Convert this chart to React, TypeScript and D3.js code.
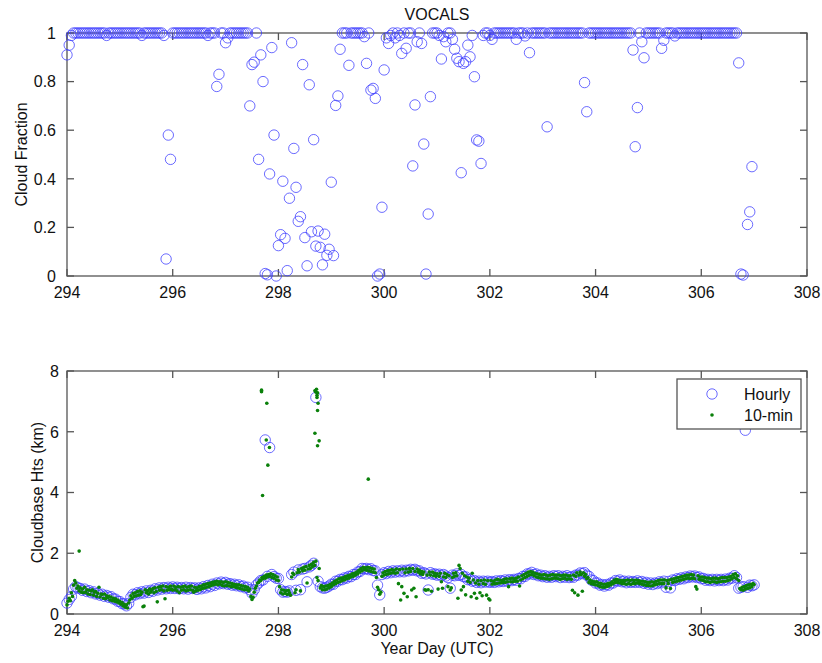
import React from 'react';
import * as d3 from 'd3';

// ---- data ---------------------------------------------------------------
const chartTitle = 'VOCALS';
const firstDay = 294;
const dayTicks = [294, 296, 298, 300, 302, 304, 306, 308];
const fractionTicks = [0, 0.2, 0.4, 0.6, 0.8, 1];
const heightTicks = [0, 2, 4, 6, 8];
const legendLabels = ['Hourly', '10-min'];

// Hourly cloud fraction, one row of 24 hours per year day (294 ... 306)
const fractionByDay: (number | null)[][] = [
  [0.91, 0.95, 0.99, 1, 1, 1, 1, 1, 1, 1, 1, 1, 1, 1, 1, 1, 1, 1, 0.99, 1, 1, 1, 1, 1],
  [1, 1, 1, 1, 1, 1, 1, 1, 1, 1, 0.99, 1, 1, 1, 1, 1, 1, 1, 1, 1, 0.99, 0.07, 0.58, 0.48],
  [1, 1, 1, 1, 1, 1, 1, 1, 1, 1, 1, 1, 1, 1, 1, 1, 0.99, 1, 1, 1, 0.78, 0.83, 1, 1],
  [0.96, 0.98, 1, 1, 1, 1, 1, 1, 1, 1, 1, 0.7, 0.87, 0.88, 1, 0.48, 0.91, 0.8, 0.01, 0.005, 0.42, 0.94, 0.58, 0],
  [0.125, 0.17, 0.39, 0.155, 0.022, 0.32, 0.96, 0.525, 0.365, 0.225, 0.244, 0.87, 0.158, 0.042, 0.787, 0.182, 0.561, 0.123, 0.185, 0.118, 0.046, 0.172, 0.085, 0.11],
  [0.386, 0.084, 0.702, 0.741, 0.933, 1, 1, 1, 0.867, 1, 1, 1, 1, 1, 1, 0.985, 0.875, 1, 0.765, 0.772, 0.731, 0, 0.008, 0.283],
  [0.848, 0.98, 0.957, 0.99, 1, 0.98, 1, 0.99, 0.916, 1, 0.937, 1, 1, 0.453, 0.704, 0.964, 1, 0.957, 0.543, 0.008, 0.255, 0.738, 1, 1],
  [1, 0.99, 0.893, 0.985, 0.964, 1, 1, 0.974, 0.933, 0.896, 0.882, 0.425, 0.875, 0.882, 0.95, 0.902, 0.99, 0.82, 0.56, 0.555, 0.463, 0.99, 1, 1],
  [0.99, 0.974, 1, 1, 1, 1, 1, 1, 1, 1, 1, 1, 0.974, 1, 1, 1, 0.988, 1, 0.919, 1, 1, 1, 1, 1],
  [1, 1, 0.614, 1, 1, 1, 1, 1, 1, 1, 1, 1, 1, 1, 1, 1, 1, 1, 1, 0.796, 0.676, 1, 1, 1],
  [1, 1, 1, 1, 1, 1, 1, 1, 1, 1, 1, 1, 1, 1, 1, 1, 1, 0.93, 0.532, 0.693, 1, 0.964, 0.898, 1],
  [1, 1, 1, 1, 1, 1, 0.937, 0.97, 1, 1, 1, 1, 0.988, 1, 1, 1, 1, 1, 1, 1, 1, 1, 1, 1],
  [1, 1, 1, 1, 1, 1, 1, 1, 1, 1, 1, 1, 1, 1, 1, 1, 1, 0.877, 0.008, 0.004, null, 0.212, 0.264, 0.45],
];

// Hourly cloudbase height (km), one row of 24 hours per year day (294 ... 307)
const hourlyBaseByDay: (number | null)[][] = [
  [0.36, 0.48, 0.58, 0.82, 0.9, 0.86, 0.84, 0.78, 0.82, 0.74, 0.77, 0.7, 0.73, 0.66, 0.68, 0.62, 0.65, 0.58, 0.61, 0.55, 0.57, 0.5, 0.49, 0.42],
  [0.41, 0.34, 0.33, 0.27, 0.35, 0.55, 0.65, 0.63, 0.7, 0.67, 0.73, 0.69, 0.76, 0.71, 0.78, 0.75, 0.83, 0.79, 0.86, 0.82, 0.87, 0.83, 0.88, 0.84],
  [0.89, 0.84, 0.88, 0.83, 0.87, 0.83, 0.88, 0.82, 0.87, 0.84, 0.86, 0.81, 0.86, 0.83, 0.9, 0.86, 0.94, 0.9, 0.98, 0.94, 1.02, 0.99, 1.05, 1.0],
  [1.04, 0.98, 1.0, 0.95, 0.98, 0.93, 0.96, 0.9, 0.92, 0.86, 0.88, 0.8, 0.68, 0.8, 0.95, 1.02, 1.1, 1.12, 5.73, 1.24, 5.48, 1.3, 1.23, 1.18],
  [1.17, 0.8, 0.72, 0.74, 0.72, 0.76, 1.3, 1.38, 0.78, 1.45, 0.8, 1.48, 1.5, 1.06, 1.55, 1.6, 1.67, 7.13, 1.08, 0.9, 0.86, 0.85, 0.88, 0.92],
  [0.98, 0.98, 1.08, 1.08, 1.14, 1.13, 1.19, 1.18, 1.24, 1.23, 1.3, 1.3, 1.38, 1.4, 1.5, 1.48, 1.5, 1.46, 1.49, 1.43, 1.42, 0.95, 0.63, 1.3],
  [1.36, 1.33, 1.4, 1.36, 1.42, 1.38, 1.42, 1.39, 1.44, 1.39, 1.44, 1.42, 1.47, 1.44, 1.47, 1.42, 1.42, 1.34, 1.36, 1.32, 0.79, 1.36, 1.31, 1.32],
  [1.28, 1.31, 1.26, 1.3, 1.25, 1.2, 0.85, 1.28, 1.26, 1.32, 1.27, 1.3, 1.23, 1.22, 1.13, 1.14, 1.08, 1.1, 1.04, 1.08, 1.03, 1.08, 1.05, 1.08],
  [1.04, 1.07, 1.04, 1.09, 1.06, 1.1, 1.07, 1.12, 1.08, 1.13, 1.1, 1.14, 1.11, 1.17, 1.16, 1.24, 1.24, 1.32, 1.32, 1.37, 1.3, 1.32, 1.26, 1.28],
  [1.23, 1.26, 1.21, 1.24, 1.21, 1.26, 1.23, 1.26, 1.2, 1.24, 1.21, 1.26, 1.2, 1.23, 1.21, 1.28, 1.28, 1.35, 1.33, 1.36, 1.28, 1.24, 1.12, 1.1],
  [1.02, 1.02, 0.95, 0.97, 0.92, 0.97, 0.95, 1.02, 1.02, 1.1, 1.08, 1.12, 1.06, 1.08, 1.03, 1.08, 1.04, 1.07, 1.04, 1.09, 1.04, 1.07, 1.01, 1.04],
  [0.98, 1.02, 0.97, 1.02, 1.0, 1.06, 1.03, 1.08, 0.88, 1.07, 0.86, 1.12, 1.1, 1.16, 1.14, 1.19, 1.16, 1.22, 1.2, 1.25, 1.22, 1.25, 1.2, 1.22],
  [1.16, 1.17, 1.11, 1.14, 1.1, 1.14, 1.09, 1.14, 1.1, 1.14, 1.1, 1.15, 1.12, 1.18, 1.18, 1.26, 1.2, 0.85, 0.88, 0.9, 6.05, 0.88, 0.95, 0.93],
  [0.96],
];

// 10-min cloudbase heights (km), thinned to two samples per hour, 48 per day
const tenMinBaseByDay: (number | null)[][] = [
  [0.3, 0.42, 0.52, 0.44, 0.7, 0.58, 0.95, 1.1, 1.02, 0.85, 0.92, 0.76, 0.86, 0.72, 0.82, 0.7, 0.88, 0.72, 0.8, 0.66, 0.78, 0.64, 0.76, 0.8, 0.62, 0.72, 0.74, 0.58, 0.68, 0.88, 0.56, 0.66, 0.64, 0.52, 0.66, 0.5, 0.6, 0.54, 0.58, 0.46, 0.56, 0.44, 0.52, 0.42, 0.5, 0.4, 0.46, 0.36],
  [0.42, 0.32, 0.38, 0.26, 0.32, 0.22, 0.3, 0.2, 0.36, 0.46, 0.6, 0.52, 0.68, 0.58, 0.7, 0.6, 0.74, 0.62, 0.76, 0.64, 0.72, 0.24, 0.26, 0.8, 0.7, 0.76, 0.66, 0.82, 0.72, 0.78, 0.84, 0.7, 0.86, 0.74, 0.4, 0.88, 0.78, 0.9, 0.8, 0.92, 0.76, 0.5, 0.9, 0.78, 0.88, 0.8, 0.92, 0.82],
  [0.78, 0.92, 0.8, 0.88, 0.76, 0.9, 0.7, 0.88, 0.78, 0.9, 0.8, 0.92, 0.76, 0.88, 0.78, 0.9, 0.8, 0.92, 0.78, 0.72, 0.88, 0.76, 0.86, 0.78, 0.9, 0.8, 0.92, 0.84, 0.96, 0.86, 0.98, 0.88, 1.0, 0.9, 1.02, 0.94, 1.04, 0.96, 1.06, 0.98, 1.08, 0.96, 1.06, 0.98, 1.06, 0.94, 1.04, 0.92],
  [1.06, 0.94, 1.04, 0.92, 1.02, 0.9, 1.0, 0.9, 0.98, 0.88, 0.96, 0.86, 0.96, 0.84, 0.94, 0.82, 0.92, 0.8, 0.9, 0.8, 0.88, 0.76, 0.82, 0.58, 0.48, 0.55, 0.72, 0.85, 0.92, 1.02, 1.04, 1.12, 1.1, 1.2, 1.16, 1.24, 1.18, 1.28, 1.22, 1.3, 1.24, 1.32, 1.2, 1.3, 1.18, 1.26, 1.12, 1.22],
  [1.1, 0.9, 0.7, 0.8, 0.66, 0.78, 0.68, 0.76, 0.64, 0.78, 0.7, 0.62, 1.22, 1.34, 1.3, 0.7, 0.8, 1.36, 1.46, 1.38, 0.76, 1.5, 1.42, 1.54, 1.44, 1.56, 1.02, 1.48, 1.6, 1.5, 1.64, 1.56, 1.7, 1.6, 1.74, 1.2, 1.1, 1.5, 0.86, 0.94, 0.8, 0.9, 0.8, 0.92, 0.82, 0.94, 0.86, 0.98],
  [0.9, 1.02, 0.96, 1.08, 1.0, 1.12, 1.04, 1.16, 1.06, 1.18, 1.1, 1.2, 1.12, 1.24, 1.16, 1.26, 1.18, 1.28, 1.22, 1.32, 1.24, 1.34, 1.28, 1.38, 1.32, 1.44, 1.38, 1.5, 1.42, 1.54, 1.46, 1.52, 1.44, 1.54, 1.42, 1.52, 1.4, 1.5, 1.38, 1.48, 1.36, 1.2, 0.88, 0.8, 0.65, 0.72, 1.24, 1.36],
  [1.28, 1.4, 1.3, 1.42, 1.32, 1.44, 1.34, 1.46, 1.36, 1.44, 1.34, 1.48, 1.36, 1.0, 1.46, 0.46, 0.9, 1.48, 0.68, 1.36, 1.48, 0.57, 1.38, 1.5, 1.4, 0.79, 1.5, 0.85, 1.4, 0.57, 1.48, 1.38, 1.44, 1.32, 1.4, 1.3, 1.38, 0.8, 0.78, 1.28, 0.8, 1.38, 1.28, 0.75, 1.38, 1.26, 1.34, 1.24],
  [1.32, 0.82, 1.24, 1.34, 1.06, 0.85, 1.22, 1.34, 1.2, 1.3, 0.9, 1.26, 0.79, 0.86, 1.2, 1.34, 1.24, 1.36, 1.26, 0.52, 1.6, 1.5, 0.79, 1.34, 0.9, 1.26, 0.63, 1.22, 1.08, 1.18, 1.04, 0.57, 1.34, 1.12, 0.68, 1.02, 0.52, 1.1, 0.98, 0.7, 1.1, 0.6, 1.0, 1.12, 0.98, 0.62, 1.1, 0.5],
  [0.46, 1.1, 0.98, 1.08, 1.0, 1.12, 1.0, 1.14, 1.02, 1.12, 1.02, 1.1, 1.04, 1.14, 1.04, 1.16, 1.06, 0.9, 1.16, 1.06, 1.18, 1.06, 1.16, 1.08, 1.18, 1.08, 1.22, 0.92, 1.12, 1.26, 1.16, 1.3, 1.2, 1.34, 1.24, 1.38, 1.28, 1.4, 1.3, 1.38, 1.26, 1.34, 1.22, 1.32, 1.2, 1.3, 1.18, 1.28],
  [1.18, 1.3, 1.16, 1.28, 1.16, 1.26, 1.14, 1.28, 1.16, 1.3, 1.18, 1.28, 1.18, 1.28, 1.16, 1.28, 1.14, 1.26, 1.16, 1.28, 1.18, 1.28, 1.14, 1.26, 1.16, 1.26, 1.14, 0.78, 1.28, 0.7, 1.24, 1.36, 0.62, 1.28, 1.38, 1.3, 0.75, 1.36, 1.24, 1.3, 1.16, 1.2, 1.04, 1.12, 1.0, 1.08, 0.98, 1.06],
  [0.96, 1.06, 0.94, 1.02, 0.9, 1.0, 0.88, 0.98, 0.88, 0.98, 0.9, 1.0, 0.92, 1.02, 0.96, 1.06, 1.0, 1.12, 1.04, 1.14, 1.04, 1.12, 1.02, 1.1, 1.0, 1.1, 1.0, 1.1, 0.98, 1.12, 1.0, 1.1, 0.98, 1.12, 1.0, 1.1, 1.0, 1.12, 1.02, 1.1, 1.0, 1.08, 0.98, 1.08, 0.96, 1.06, 0.94, 1.04],
  [0.94, 1.04, 0.92, 1.06, 0.94, 1.04, 0.96, 1.08, 0.98, 1.1, 1.0, 1.12, 1.0, 1.12, 1.0, 1.12, 0.86, 1.1, 1.0, 1.12, 0.84, 1.14, 1.04, 1.16, 1.06, 1.18, 1.08, 1.2, 1.1, 1.22, 1.12, 1.24, 1.14, 1.26, 1.16, 1.28, 1.18, 1.28, 1.16, 1.3, 1.18, 1.28, 1.16, 0.9, 0.82, 1.26, 1.14, 1.22],
  [1.12, 1.22, 1.1, 1.2, 1.06, 1.18, 1.06, 1.18, 1.04, 1.16, 1.06, 1.18, 1.06, 1.18, 1.04, 1.16, 1.06, 1.18, 1.06, 1.2, 1.08, 1.2, 1.08, 1.2, 1.1, 1.22, 1.12, 1.24, 1.16, 1.3, 1.2, 1.32, 1.16, 1.26, 1.1, 0.84, 0.8, 0.88, 0.78, 0.9, 0.82, 0.94, 0.84, 0.96, 0.86, 0.98, 0.9, 1.0],
  [0.97],
];

// Isolated high 10-min returns (year day, km)
const spikeDays = [294.23, 297.68, 297.68, 297.7, 297.78, 297.77, 297.83, 297.8, 298.69, 298.71, 298.72, 298.73, 298.74, 298.73, 298.75, 298.74, 298.69, 298.77, 298.74, 299.7];
const spikeKm = [2.07, 7.32, 7.37, 3.9, 6.94, 5.73, 5.48, 4.9, 7.35, 7.3, 7.4, 7.2, 7.28, 7.13, 6.94, 6.7, 5.95, 5.7, 5.54, 4.44];

// ---- helpers ------------------------------------------------------------
type Pt = { day: number; v: number };

function flattenRows(rows: (number | null)[][], perDay: number): Pt[] {
  const out: Pt[] = [];
  rows.forEach((row, d) => {
    row.forEach((v, k) => {
      if (v !== null) out.push({ day: firstDay + d + k / perDay, v });
    });
  });
  return out;
}

const fractionPts = flattenRows(fractionByDay, 24);
const hourlyPts = flattenRows(hourlyBaseByDay, 24);
const tenMinPts = flattenRows(tenMinBaseByDay, 48).concat(
  spikeDays.map((day, i) => ({ day, v: spikeKm[i] }))
);

// ---- layout -------------------------------------------------------------
const W = 822;
const H = 663;
const left = 67;
const right = 807;
const top1 = 33;
const bottom1 = 276;
const top2 = 371;
const bottom2 = 614;

const FONT = '"Liberation Sans", Arial, sans-serif';
const AXIS = '#555';
const CIRCLE = '#3a3aff';
const DOT = '#0a800a';
const TICK = 7;

const x = d3.scaleLinear().domain([294, 308]).range([left, right]);
const yFrac = d3.scaleLinear().domain([0, 1]).range([bottom1, top1]);
const yKm = d3.scaleLinear().domain([0, 8]).range([bottom2, top2]);

function Frame({
  y,
  yTicks,
  top,
  bottom,
  labelGap,
}: {
  y: d3.ScaleLinear<number, number>;
  yTicks: number[];
  top: number;
  bottom: number;
  labelGap: number;
}) {
  return (
    <g>
      <rect x={left} y={top} width={right - left} height={bottom - top} fill="none" stroke={AXIS} strokeWidth={1.3} />
      {dayTicks.map((t) => (
        <g key={'x' + t}>
          <line x1={x(t)} x2={x(t)} y1={bottom} y2={bottom - TICK} stroke={AXIS} strokeWidth={1.3} />
          <line x1={x(t)} x2={x(t)} y1={top} y2={top + TICK} stroke={AXIS} strokeWidth={1.3} />
          <text x={x(t)} y={bottom + 22} textAnchor="middle" fontSize={16} fill="#111">
            {String(t)}
          </text>
        </g>
      ))}
      {yTicks.map((t) => (
        <g key={'y' + t}>
          <line x1={left} x2={left + TICK} y1={y(t)} y2={y(t)} stroke={AXIS} strokeWidth={1.3} />
          <line x1={right} x2={right - TICK} y1={y(t)} y2={y(t)} stroke={AXIS} strokeWidth={1.3} />
          <text x={left - labelGap} y={y(t)} dy="0.36em" textAnchor="end" fontSize={16} fill="#111">
            {String(t)}
          </text>
        </g>
      ))}
    </g>
  );
}

export default function App() {
  return (
    <svg
      width={W}
      height={H}
      style={{ position: 'absolute', left: 0, top: 0, background: '#fff' }}
      fontFamily={FONT}
    >
      <rect x={0} y={0} width={W} height={H} fill="#fff" />

      {/* upper panel: hourly cloud fraction */}
      <Frame y={yFrac} yTicks={fractionTicks} top={top1} bottom={bottom1} labelGap={11} />
      <text x={(left + right) / 2} y={20} textAnchor="middle" fontSize={16} fill="#111">
        {chartTitle}
      </text>
      <text
        transform={`translate(27,${(top1 + bottom1) / 2}) rotate(-90)`}
        textAnchor="middle"
        fontSize={16}
        fill="#111"
      >
        Cloud Fraction
      </text>
      <g fill="none" stroke={CIRCLE} strokeWidth={1} strokeOpacity={0.75}>
        {fractionPts.map((p, i) => (
          <circle key={i} cx={x(p.day)} cy={yFrac(p.v)} r={5.2} />
        ))}
      </g>

      {/* lower panel: cloudbase heights */}
      <Frame y={yKm} yTicks={heightTicks} top={top2} bottom={bottom2} labelGap={8} />
      <text
        transform={`translate(43,${(top2 + bottom2) / 2}) rotate(-90)`}
        textAnchor="middle"
        fontSize={16}
        fill="#111"
      >
        Cloudbase Hts (km)
      </text>
      <text x={(left + right) / 2} y={654} textAnchor="middle" fontSize={16} fill="#111">
        Year Day (UTC)
      </text>
      <g fill="none" stroke={CIRCLE} strokeWidth={1} strokeOpacity={0.75}>
        {hourlyPts.map((p, i) => (
          <circle key={i} cx={x(p.day)} cy={yKm(p.v)} r={5.2} />
        ))}
      </g>
      <g fill={DOT}>
        {tenMinPts.map((p, i) => (
          <circle key={i} cx={x(p.day)} cy={yKm(p.v)} r={1.8} />
        ))}
      </g>

      {/* legend */}
      <g>
        <rect x={677} y={379} width={124} height={50} fill="#fff" stroke={AXIS} strokeWidth={1.3} />
        <circle cx={712} cy={394} r={5.2} fill="none" stroke={CIRCLE} strokeOpacity={0.75} />
        <text x={744} y={400} fontSize={16} fill="#111">
          {legendLabels[0]}
        </text>
        <circle cx={712} cy={415} r={1.8} fill={DOT} />
        <text x={744} y={421} fontSize={16} fill="#111">
          {legendLabels[1]}
        </text>
      </g>
    </svg>
  );
}
